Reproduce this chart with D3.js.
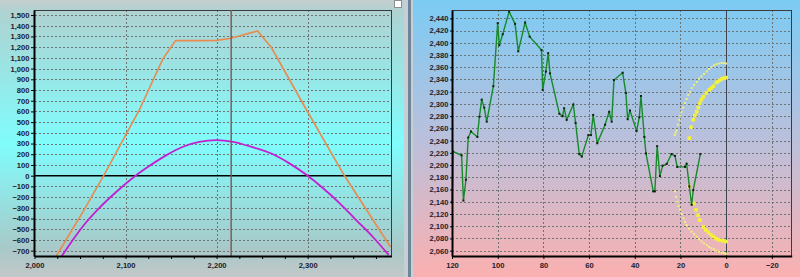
<!DOCTYPE html>
<html>
<head>
<meta charset="utf-8">
<script src="https://cdn.jsdelivr.net/npm/d3@7"></script>
<style>
body { margin:0; background:#c8cccc; }
svg { display:block; font-family:"Liberation Sans", Arial, sans-serif; }
.tick text { font-size:7.6px; font-weight:bold; fill:#1c1c2c; }
.tick line { stroke:#000; }
.axis path { stroke:#000; stroke-width:2; }
.grid { stroke:#6c7474; stroke-width:1; stroke-dasharray:2,2; shape-rendering:crispEdges; }
.frame { fill:none; stroke:#3a3a3a; stroke-width:1; shape-rendering:crispEdges; }
</style>
</head>
<body>
<script>
// left chart: profit curves
var leftXTicks = [2000, 2100, 2200, 2300]
var leftYTicks = [-700,-600,-500,-400,-300,-200,-100,0,100,200,300,400,500,600,700,800,900,1000,1100,1200,1300,1400,1500]
var expiryX = [2024, 2053, 2076, 2115, 2141, 2155, 2181, 2200, 2216, 2245, 2260, 2299, 2340, 2391]
var expiryY = [-750, -340, 0, 611, 1091, 1261, 1261, 1263, 1283, 1351, 1199, 611, 6, -666]
var todayX = [2030, 2053, 2071, 2090, 2111, 2126, 2145, 2163, 2181, 2200, 2218, 2236, 2262, 2280, 2299, 2317, 2335, 2353, 2372, 2389]
var todayY = [-750, -474, -303, -150, 0, 90, 192, 270, 316, 332, 316, 275, 200, 115, 6, -117, -256, -412, -575, -740]
var spotNow = 2216

// right chart: price history + forecast bands
var rightXTicks = [120, 100, 80, 60, 40, 20, 0, -20]
var rightYTicks = [2060,2080,2100,2120,2140,2160,2180,2200,2220,2240,2260,2280,2300,2320,2340,2360,2380,2400,2420,2440]
var priceX = [120, 119.5, 115.8, 115, 113.9, 112.9, 111.7, 108.9, 108, 107, 105.9, 104.8, 101.9, 100, 99.3, 97.8, 95, 92.4, 91, 88, 86, 80.8, 80.3, 78.9, 77.9, 77.1, 73, 71.6, 70.9, 69.8, 66.9, 65.9, 64.3, 63.2, 60.3, 59.2, 58.2, 56.4, 53, 51.2, 50.1, 49.1, 45.3, 43.9, 43.1, 42.1, 39.2, 38, 37.3, 35.8, 35.1, 31.9, 31.2, 30.2, 29, 27.8, 26, 23.9, 22.4, 21.4, 18, 17.3, 16.1, 15.1, 14.4, 11.3]
var priceY = [2139, 2222, 2216, 2142, 2176, 2245, 2255, 2246, 2279, 2307, 2294, 2271, 2329, 2432, 2396, 2414, 2451, 2431, 2386, 2433, 2410, 2388, 2323, 2353, 2383, 2350, 2284, 2280, 2293, 2274, 2299, 2269, 2218, 2214, 2249, 2249, 2282, 2236, 2266, 2287, 2271, 2339, 2351, 2318, 2275, 2289, 2256, 2278, 2313, 2246, 2219, 2157, 2157, 2231, 2182, 2199, 2202, 2218, 2215, 2197, 2197, 2202, 2165, 2135, 2159, 2218]
var innerX = [0, 0.9, 1.8, 2.6, 3.5, 4.3, 5.6, 6.5, 7.4, 8.7, 10, 10.8, 11.5, 12.2, 12.9, 13.7, 14.4, 15.4, 16.1, 16.3, 15.1, 14.2, 13.2, 12.3, 11.5, 10, 8.9, 7.8, 6.7, 5.6, 4.5, 3.5, 2.4, 1.3, 0]
var innerY = [2343, 2342, 2341, 2339, 2337, 2335, 2329, 2326, 2323, 2318, 2312, 2307, 2301, 2294, 2287, 2281, 2274, 2262, 2244, 2165, 2148, 2137, 2127, 2118, 2110, 2099, 2094, 2090, 2086, 2083, 2080, 2078, 2077, 2076, 2075]
var outerX = [0, 1, 2, 3, 4.2, 5.3, 6.4, 7.5, 8.5, 9.7, 10.8, 11.9, 12.9, 14, 15.1, 15.9, 16.6, 17.3, 18, 18.8, 19.5, 20, 20.5, 21.1, 21.7, 22.1, 22.5,
              22.4, 21.9, 21.4, 20.8, 20.2, 19.5, 18.7, 18, 17.3, 16.2, 15.1, 14, 12.9, 11.9, 10.8, 9.7, 8.5, 7.5, 6.4, 5.3, 4.2, 3.1, 2, 1, 0]
var outerY = [2366, 2367, 2367, 2366, 2365, 2363, 2360, 2357, 2353, 2349, 2345, 2341, 2336, 2331, 2326, 2320, 2315, 2308, 2301, 2294, 2287, 2281, 2274, 2266, 2257, 2253, 2249,
              2157, 2148, 2140, 2133, 2127, 2120, 2113, 2107, 2102, 2096, 2091, 2087, 2083, 2079, 2075, 2072, 2069, 2066, 2064, 2062, 2060, 2058, 2057, 2056, 2055]

var W = 800, H = 277
var svg = d3.select("body").append("svg").attr("width", W).attr("height", H)
var defs = svg.append("defs")

function gradient(id, stops) {
    var g = defs.append("linearGradient").attr("id", id)
        .attr("x1", 0).attr("y1", 0).attr("x2", 0).attr("y2", 1)
    stops.forEach(function(s) {
        g.append("stop").attr("offset", s[0]).attr("stop-color", s[1])
    })
}
gradient("leftBg", [[0, "#c6cece"], [0.04, "#afd2d2"], [0.52, "#80fcfc"], [0.9, "#a9c8c8"], [1, "#c2c8c8"]])
gradient("rightBg", [[0, "#7bcbf4"], [0.5, "#bac0dc"], [1, "#fbb0b0"]])

// panels + splitter
svg.append("rect").attr("x", 0).attr("y", 0).attr("width", 404).attr("height", H).attr("fill", "url(#leftBg)")
svg.append("rect").attr("x", 413).attr("y", 0).attr("width", W - 413).attr("height", H).attr("fill", "url(#rightBg)")
svg.append("rect").attr("x", 404).attr("y", 0).attr("width", 9).attr("height", H).attr("fill", "#c4d0d6")
svg.append("rect").attr("x", 408).attr("y", 0).attr("width", 3).attr("height", H).attr("fill", "#6f8496")
svg.append("rect").attr("x", 394.5).attr("y", 0.5).attr("width", 7).attr("height", 7)
    .attr("fill", "#fff").attr("stroke", "#8a9090")

// ---------- LEFT CHART ----------
var lx = d3.scaleLinear().domain([2000, 2392]).range([34.5, 391.4])
var ly = d3.scaleLinear().domain([-750, 1547]).range([256, 10])
var left = svg.append("g")

left.selectAll("line.hgrid").data(leftYTicks.filter(function(d){return d !== 0}))
    .enter().append("line").attr("class", "grid hgrid")
    .attr("x1", lx(2000)).attr("x2", lx(2392))
    .attr("y1", function(d){return Math.round(ly(d)) + 0.5})
    .attr("y2", function(d){return Math.round(ly(d)) + 0.5})
left.selectAll("line.vgrid").data(leftXTicks.slice(1))
    .enter().append("line").attr("class", "grid vgrid")
    .attr("x1", function(d){return Math.round(lx(d)) + 0.5})
    .attr("x2", function(d){return Math.round(lx(d)) + 0.5})
    .attr("y1", 10).attr("y2", 256)

left.append("rect").attr("class", "frame")
    .attr("x", 34.5).attr("y", 10.5).attr("width", 357).attr("height", 246)

//ZERO LINE
left.append("line").attr("x1", lx(2000)).attr("x2", lx(2392))
    .attr("y1", ly(0)).attr("y2", ly(0)).attr("stroke", "#000").attr("stroke-width", 1.6)

var lineL = d3.line().x(function(d){return lx(d[0])}).y(function(d){return ly(d[1])})
left.append("path").datum(d3.zip(expiryX, expiryY)).attr("d", lineL)
    .attr("fill", "none").attr("stroke", "#e98a4e").attr("stroke-width", 1.6)
left.append("path").datum(d3.zip(todayX, todayY)).attr("d", lineL.curve(d3.curveMonotoneX))
    .attr("fill", "none").attr("stroke", "#c21ed2").attr("stroke-width", 1.8)

//SPOT LINE
left.append("line").attr("x1", lx(spotNow)).attr("x2", lx(spotNow))
    .attr("y1", 10).attr("y2", 256).attr("stroke", "#7a5656").attr("stroke-width", 1.4)

left.append("g").attr("class", "axis").attr("transform", "translate(34,0)")
    .call(d3.axisLeft(ly).tickValues(leftYTicks).tickFormat(d3.format(",")).tickSize(3).tickSizeOuter(0).tickPadding(1.5))
left.append("g").attr("class", "axis").attr("transform", "translate(0,256)")
    .call(d3.axisBottom(lx).tickValues(d3.range(2000, 2392, 25)).tickFormat(function(d){return d % 100 === 0 ? d3.format(",")(d) : ""})
        .tickSize(3).tickSizeOuter(0).tickPadding(4))

// ---------- RIGHT CHART ----------
var rx = d3.scaleLinear().domain([120, -28.7]).range([452, 791.7])
var ry = d3.scaleLinear().domain([2051.3, 2453.6]).range([256, 10])
var right = svg.append("g")

right.selectAll("line.hgrid").data(rightYTicks)
    .enter().append("line").attr("class", "grid hgrid")
    .attr("x1", 452).attr("x2", 791.7)
    .attr("y1", function(d){return Math.round(ry(d)) + 0.5})
    .attr("y2", function(d){return Math.round(ry(d)) + 0.5})
right.selectAll("line.vgrid").data(rightXTicks.filter(function(d){return d !== 120 && d !== 0}))
    .enter().append("line").attr("class", "grid vgrid")
    .attr("x1", function(d){return Math.round(rx(d)) + 0.5})
    .attr("x2", function(d){return Math.round(rx(d)) + 0.5})
    .attr("y1", 10).attr("y2", 256)

right.append("rect").attr("class", "frame")
    .attr("x", 452.5).attr("y", 10.5).attr("width", 339).attr("height", 246)

//NOW LINE
right.append("line").attr("x1", Math.round(rx(0)) + 0.5).attr("x2", Math.round(rx(0)) + 0.5)
    .attr("y1", 10).attr("y2", 256).attr("stroke", "#3c4250").attr("stroke-width", 1)

//FORECAST BANDS
right.selectAll("rect.outer").data(d3.zip(outerX, outerY))
    .enter().append("rect").attr("class", "outer")
    .attr("x", function(d){return rx(d[0]) - 1}).attr("y", function(d){return ry(d[1]) - 1})
    .attr("width", 2).attr("height", 2).attr("fill", "#f2f07c")
right.selectAll("rect.inner").data(d3.zip(innerX, innerY))
    .enter().append("rect").attr("class", "inner")
    .attr("x", function(d){return rx(d[0]) - 1.8}).attr("y", function(d){return ry(d[1]) - 1.8})
    .attr("width", 3.6).attr("height", 3.6).attr("fill", "#f6f03a")

//PRICE
var lineR = d3.line().x(function(d){return rx(d[0])}).y(function(d){return ry(d[1])})
var price = d3.zip(priceX, priceY)
right.append("path").datum(price).attr("d", lineR)
    .attr("fill", "none").attr("stroke", "#168a2a").attr("stroke-width", 1.4)
right.selectAll("rect.pt").data(price)
    .enter().append("rect").attr("class", "pt")
    .attr("x", function(d){return rx(d[0]) - 1}).attr("y", function(d){return ry(d[1]) - 1})
    .attr("width", 2).attr("height", 2).attr("fill", "#102010")

right.append("g").attr("class", "axis").attr("transform", "translate(452,0)")
    .call(d3.axisLeft(ry).tickValues(rightYTicks).tickFormat(d3.format(",")).tickSize(2).tickSizeOuter(0).tickPadding(1.5))
right.append("g").attr("class", "axis").attr("transform", "translate(0,256)")
    .call(d3.axisBottom(rx).tickValues(rightXTicks).tickSize(3).tickSizeOuter(0).tickPadding(4))
</script>
</body>
</html>
